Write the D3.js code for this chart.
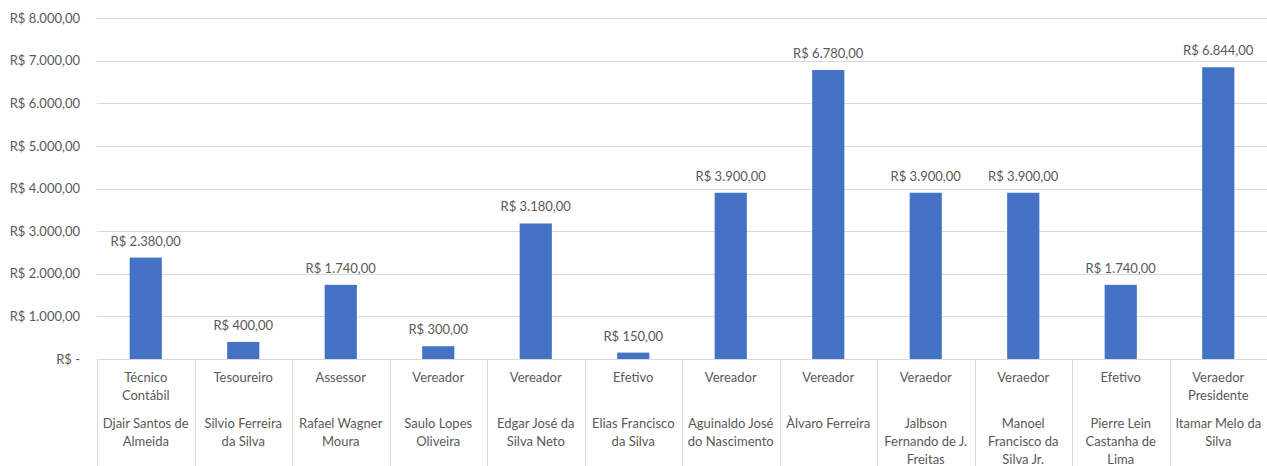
<!DOCTYPE html>
<html>
<head>
<meta charset="utf-8">
<script src="https://cdn.jsdelivr.net/npm/d3@7"></script>
<style>
  body { margin: 0; background: #fff; }
  text { font-family: Lato, "Open Sans", sans-serif; fill: #595959; }
</style>
</head>
<body>
<svg width="1267" height="466"></svg>
<script>
// values for each person (R$)
const values = [2380, 400, 1740, 300, 3180, 150, 3900, 6780, 3900, 3900, 1740, 6844]

// job titles, already split in lines as in the picture
const roles = [
  ["Técnico", "Contábil"], ["Tesoureiro"], ["Assessor"], ["Vereador"], ["Vereador"], ["Efetivo"],
  ["Vereador"], ["Vereador"], ["Veraedor"], ["Veraedor"], ["Efetivo"], ["Veraedor", "Presidente"]
]

// names, also split in lines
const names = [
  ["Djair Santos de", "Almeida"], ["Silvio Ferreira", "da Silva"], ["Rafael Wagner", "Moura"],
  ["Saulo Lopes", "Oliveira"], ["Edgar José da", "Silva Neto"], ["Elias Francisco", "da Silva"],
  ["Aguinaldo José", "do Nascimento"], ["Àlvaro Ferreira"], ["Jalbson", "Fernando de J.", "Freitas"],
  ["Manoel", "Francisco da", "Silva Jr."], ["Pierre Lein", "Castanha de", "Lima"], ["Itamar Melo da", "Silva"]
]

const yTicks = [0, 1000, 2000, 3000, 4000, 5000, 6000, 7000, 8000]

const svg = d3.select("svg"),
      plotLeft = 97, plotRight = 1267, plotTop = 18, base = 359,
      fs = "13px"

const br = d3.formatLocale({ decimal: ",", thousands: ".", grouping: [3], currency: ["R$ ", ""] })
const money = v => v === 0 ? "R$ -" : br.format("$,.2f")(v)

const idx = values.map((v, i) => i)
const x = d3.scaleBand().domain(idx).range([plotLeft, plotRight]).padding(0)
const y = d3.scaleLinear().domain([0, 8000]).range([base, plotTop])
const bw = x.bandwidth()

// gridlines
svg.append("g").selectAll("line")
  .data(yTicks.filter(d => d > 0))
  .enter().append("line")
  .attr("x1", plotLeft).attr("x2", plotRight)
  .attr("y1", d => Math.round(y(d)) + 0.5).attr("y2", d => Math.round(y(d)) + 0.5)
  .attr("stroke", "#d9d9d9").attr("stroke-width", 1)

// y axis labels
const yAxis = svg.append("g")
  .attr("transform", "translate(" + (plotLeft - 17) + ",0)")
  .call(d3.axisLeft(y).tickValues(yTicks).tickFormat(money).tickSize(0).tickPadding(0))
yAxis.select(".domain").remove()
yAxis.selectAll("text").style("font-size", fs).style("fill", "#595959")
  .style("font-family", "Lato, 'Open Sans', sans-serif")

// bars
svg.append("g").selectAll("rect")
  .data(values)
  .enter().append("rect")
  .attr("x", (d, i) => x(i) + bw * 0.335)
  .attr("width", bw * 0.33)
  .attr("y", d => y(d))
  .attr("height", d => base - y(d))
  .attr("fill", "#4472c4")

// data labels
svg.append("g").selectAll("text")
  .data(values)
  .enter().append("text")
  .attr("x", (d, i) => x(i) + bw / 2)
  .attr("y", d => y(d) - 12)
  .attr("text-anchor", "middle")
  .style("font-size", fs)
  .text(d => money(d))

// category axis line + separators
svg.append("line")
  .attr("x1", plotLeft).attr("x2", plotRight).attr("y1", base + 0.5).attr("y2", base + 0.5)
  .attr("stroke", "#d9d9d9")
svg.append("g").selectAll("line")
  .data(idx)
  .enter().append("line")
  .attr("x1", d => Math.round(x(d)) + 0.5).attr("x2", d => Math.round(x(d)) + 0.5)
  .attr("y1", base).attr("y2", 466)
  .attr("stroke", "#d9d9d9")

// category labels
const cat = svg.append("g").selectAll("g")
  .data(idx)
  .enter().append("g")
  .attr("transform", d => "translate(" + (x(d) + bw / 2) + ",0)")

cat.selectAll("text.role")
  .data(d => roles[d])
  .enter().append("text")
  .attr("class", "role")
  .attr("y", (d, i) => 382 + i * 18)
  .attr("text-anchor", "middle")
  .style("font-size", fs)
  .text(d => d)

cat.selectAll("text.name")
  .data(d => names[d])
  .enter().append("text")
  .attr("class", "name")
  .attr("y", (d, i) => 428 + i * 18)
  .attr("text-anchor", "middle")
  .style("font-size", fs)
  .text(d => d)
</script>
</body>
</html>
